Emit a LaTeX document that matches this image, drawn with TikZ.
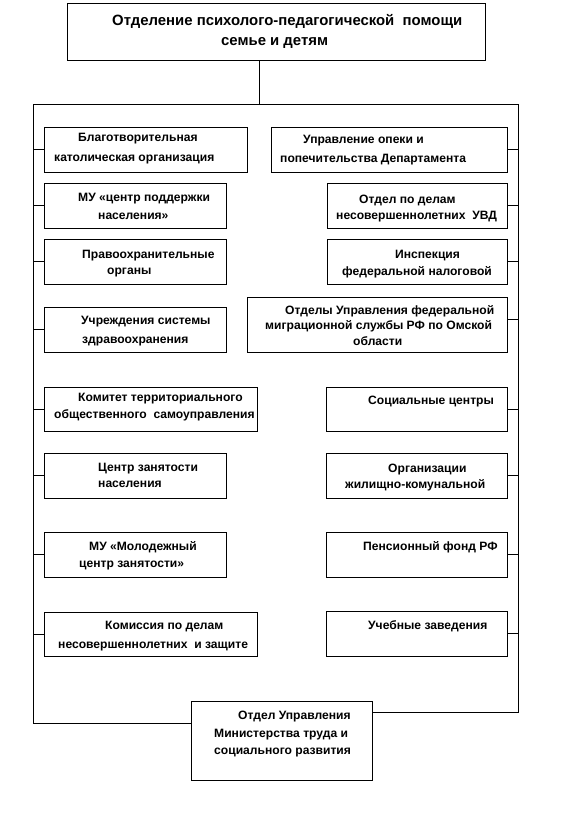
\documentclass[tikz,border=0pt]{standalone}
\usepackage{fontspec}
\setmainfont{Liberation Sans}
\begin{document}
\begin{tikzpicture}[x=1pt,y=-1pt,
  box/.style={draw,line width=0.8pt,inner sep=0pt,outer sep=0pt,anchor=north west},
  txt/.style={inner sep=0pt,anchor=base west,font=\bfseries\fontsize{12.1}{14}\selectfont},
  ttl/.style={inner sep=0pt,anchor=base west,font=\bfseries\fontsize{14.9}{17}\selectfont},
  ln/.style={line width=0.8pt}]
\useasboundingbox (0,0) rectangle (574,814);
% boxes
\node[box,minimum width=418pt,minimum height=57pt] (top) at (67,3) {};
\node[box,minimum width=203pt,minimum height=45pt] (L1) at (44,127) {};
\node[box,minimum width=182pt,minimum height=45pt] (L2) at (44,183) {};
\node[box,minimum width=182pt,minimum height=45pt] (L3) at (44,239) {};
\node[box,minimum width=182pt,minimum height=45pt] (L4) at (44,307) {};
\node[box,minimum width=213pt,minimum height=44pt] (L5) at (44,387) {};
\node[box,minimum width=182pt,minimum height=45pt] (L6) at (44,453) {};
\node[box,minimum width=182pt,minimum height=45pt] (L7) at (44,532) {};
\node[box,minimum width=213pt,minimum height=44pt] (L8) at (44,612) {};
\node[box,minimum width=236pt,minimum height=45pt] (R1) at (271,127) {};
\node[box,minimum width=180pt,minimum height=45pt] (R2) at (327,183) {};
\node[box,minimum width=180pt,minimum height=45pt] (R3) at (327,239) {};
\node[box,minimum width=260pt,minimum height=55pt] (R4) at (247,297) {};
\node[box,minimum width=181pt,minimum height=44pt] (R5) at (326,387) {};
\node[box,minimum width=181pt,minimum height=45pt] (R6) at (326,453) {};
\node[box,minimum width=181pt,minimum height=45pt] (R7) at (326,532) {};
\node[box,minimum width=181pt,minimum height=45pt] (R8) at (326,611) {};
\node[box,minimum width=181pt,minimum height=79pt] (B) at (191,701) {};
% texts
\node[ttl] (tt1) at (112,25) {Отделение психолого-педагогической \ помощи};
\node[ttl] (tt2) at (221,45) {семье и детям};
\node[txt] (l1a) at (78,141) {Благотворительная};
\node[txt] (l1b) at (54,161) {католическая организация};
\node[txt] (l2a) at (78,201) {МУ «центр поддержки};
\node[txt] (l2b) at (98,219) {населения»};
\node[txt] (l3a) at (82,258) {Правоохранительные};
\node[txt] (l3b) at (107,274) {органы};
\node[txt] (l4a) at (81,324) {Учреждения системы};
\node[txt] (l4b) at (82,343) {здравоохранения};
\node[txt] (l5a) at (78,401) {Комитет территориального};
\node[txt] (l5b) at (54,418) {общественного \ самоуправления};
\node[txt] (l6a) at (98,471) {Центр занятости};
\node[txt] (l6b) at (98,487) {населения};
\node[txt] (l7a) at (89,550) {МУ «Молодежный};
\node[txt] (l7b) at (79,567) {центр занятости»};
\node[txt] (l8a) at (105,629) {Комиссия по делам};
\node[txt] (l8b) at (58,648) {несовершеннолетних \ и защите};
\node[txt] (r1a) at (303,143) {Управление опеки и};
\node[txt] (r1b) at (280,162) {попечительства Департамента};
\node[txt] (r2a) at (359,203) {Отдел по делам};
\node[txt] (r2b) at (336,219) {несовершеннолетних \ УВД};
\node[txt] (r3a) at (395,258) {Инспекция};
\node[txt] (r3b) at (342,275) {федеральной налоговой};
\node[txt] (r4a) at (285,314) {Отделы Управления федеральной};
\node[txt] (r4b) at (265,329) {миграционной службы РФ по Омской};
\node[txt] (r4c) at (353,345) {области};
\node[txt] (r5a) at (368,404) {Социальные центры};
\node[txt] (r6a) at (388,472) {Организации};
\node[txt] (r6b) at (345,488) {жилищно-комунальной};
\node[txt] (r7a) at (363,550) {Пенсионный фонд РФ};
\node[txt] (r8a) at (368,629) {Учебные заведения};
\node[txt] (b1) at (238,719) {Отдел Управления};
\node[txt] (b2) at (214,737) {Министерства труда и};
\node[txt] (b3) at (214,754) {социального развития};
% trunk coordinates
\coordinate (tj) at (259,104);
\coordinate (lt) at (33,104);
\coordinate (lb) at (33,723);
\coordinate (rt) at (518,104);
\coordinate (rb) at (518,712);
% connectors
\draw[ln] (tj |- top.south) -- (tj);
\draw[ln] (lt) -- (rt);
\draw[ln] (lt) -- (lb) -- (lb -| B.west);
\draw[ln] (B.east |- rb) -- (rb) -- (rt);
\foreach \n in {L1,L2,L3,L4,L5,L6,L7,L8}
  \draw[ln] (\n.west) -- (\n.west -| lt);
\foreach \n in {R1,R2,R3,R5,R6,R7,R8}
  \draw[ln] (\n.east) -- (\n.east -| rt);
\draw[ln] ([yshift=5.5pt]R4.east) -- ([yshift=5.5pt]R4.east -| rt);
\end{tikzpicture}
\end{document}
